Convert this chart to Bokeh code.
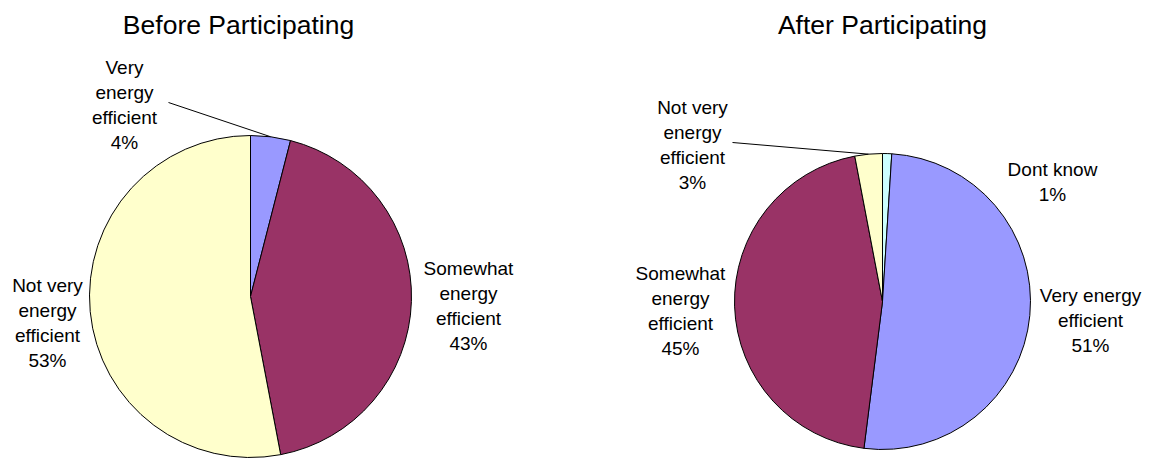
import math
from bokeh.plotting import figure
from bokeh.models import Range1d, ColumnDataSource
from bokeh.core.properties import value
from bokeh.embed import file_html
from bokeh.resources import INLINE

# ---- data ----
before_title = "Before Participating"
before_cats = ["Very energy efficient", "Somewhat energy efficient", "Not very energy efficient"]
before_vals = [4, 43, 53]
before_colors = ["#9999FF", "#993366", "#FFFFCC"]

after_title = "After Participating"
after_cats = ["Dont know", "Very energy efficient", "Somewhat energy efficient", "Not very energy efficient"]
after_vals = [1, 51, 45, 3]
after_colors = ["#CCFFFF", "#9999FF", "#993366", "#FFFFCC"]

# ---- layout (screen pixel coordinates) ----
W, H = 1152, 458
FONT = "Liberation Sans"

def sy(y):
    return H - y

p = figure(width=W, height=H, output_backend="svg", toolbar_location=None,
           x_range=Range1d(0, W), y_range=Range1d(0, H),
           min_border=0)
p.axis.visible = False
p.grid.visible = False
p.outline_line_color = None
p.background_fill_color = "white"
p.border_fill_color = "white"

FS = "19px"
LH = 25

def draw_pie(cx, cy, r, vals, colors):
    total = float(sum(vals))
    starts, ends, mids = [], [], []
    cum = 0.0
    for v in vals:
        a0 = math.pi / 2 - 2 * math.pi * cum / total
        cum += v
        a1 = math.pi / 2 - 2 * math.pi * cum / total
        starts.append(a0)
        ends.append(a1)
        mids.append((a0 + a1) / 2)
    src = ColumnDataSource(dict(x=[cx] * len(vals), y=[sy(cy)] * len(vals),
                                s=starts, e=ends, c=colors))
    p.wedge(x="x", y="y", radius=r, start_angle="s", end_angle="e",
            direction="clock", fill_color="c", line_color="black",
            line_width=1, source=src)
    return mids

def label(cx, cy, lines):
    n = len(lines)
    ys = [sy(cy + (i - (n - 1) / 2) * LH) for i in range(n)]
    p.text(x=[cx] * n, y=ys, text=lines, text_font=value(FONT),
           text_font_size=FS, text_align="center", text_baseline="middle",
           text_color="black")

# Left pie
lcx, lcy, lr = 250, 296, 161
lm = draw_pie(lcx, lcy, lr, before_vals, before_colors)
p.text(x=[238], y=[sy(24)], text=[before_title], text_font=value(FONT),
       text_font_size="26.5px", text_align="center", text_baseline="middle")
label(124, 104, ["Very", "energy", "efficient", f"{before_vals[0]}%"])
label(468, 305, ["Somewhat", "energy", "efficient", f"{before_vals[1]}%"])
label(47, 322, ["Not very", "energy", "efficient", f"{before_vals[2]}%"])
ex = lcx + lr * math.cos(lm[0])
ey = lcy - lr * math.sin(lm[0])
p.line(x=[168, ex], y=[sy(102), sy(ey)], line_color="black", line_width=1)

# Right pie
rcx, rcy, rr = 882, 301, 148
rm = draw_pie(rcx, rcy, rr, after_vals, after_colors)
p.text(x=[882], y=[sy(24)], text=[after_title], text_font=value(FONT),
       text_font_size="26.5px", text_align="center", text_baseline="middle")
label(1052, 181, ["Dont know", f"{after_vals[0]}%"])
label(1090, 320, ["Very energy", "efficient", f"{after_vals[1]}%"])
label(680, 310, ["Somewhat", "energy", "efficient", f"{after_vals[2]}%"])
label(692, 144, ["Not very", "energy", "efficient", f"{after_vals[3]}%"])
ex = rcx + rr * math.cos(rm[3])
ey = rcy - rr * math.sin(rm[3])
p.line(x=[732, ex], y=[sy(142), sy(ey)], line_color="black", line_width=1)

open("out.html", "w").write(file_html(p, INLINE))
